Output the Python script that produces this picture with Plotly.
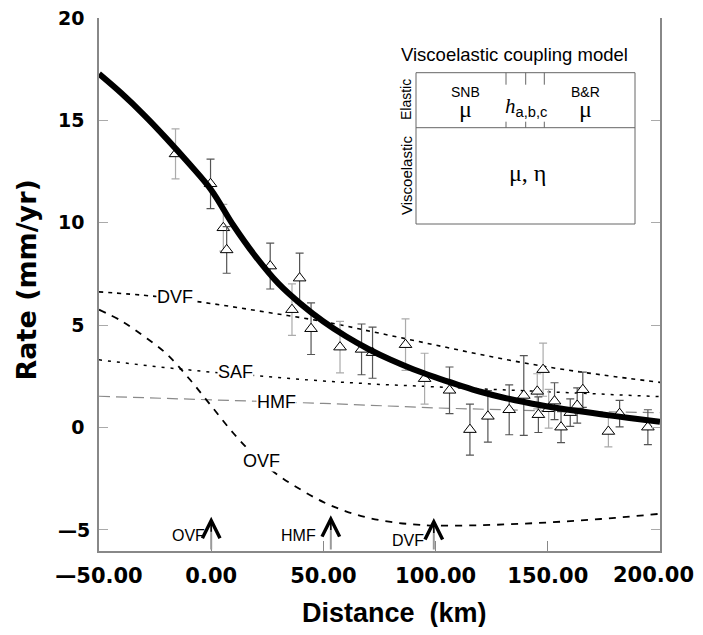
import plotly.graph_objects as go

# ---------------- data ----------------
model_x = [-50, -40, -30, -20, -10, 0, 10, 20, 30, 40, 50, 60, 70, 80, 90, 100,
           110, 120, 130, 140, 150, 160, 170, 180, 190, 200]
model_y = [17.27, 16.32, 15.27, 14.12, 12.9, 11.6, 9.85, 8.32, 7.02, 6.02, 5.17, 4.45,
           3.83, 3.3, 2.84, 2.44, 2.08, 1.74, 1.46, 1.23, 1.02, 0.85, 0.7, 0.55, 0.41, 0.27]

dvf_x = [-50, -25, 0, 25, 50, 75, 100, 125, 150, 175, 200]
dvf_y = [6.62, 6.4, 6.05, 5.62, 5.17, 4.6, 4.02, 3.45, 2.95, 2.55, 2.2]

saf_x = [-50, -25, 0, 25, 50, 75, 100, 125, 150, 175, 200]
saf_y = [3.3, 2.97, 2.7, 2.47, 2.26, 2.1, 1.98, 1.86, 1.74, 1.62, 1.5]

hmf_x = [-50, 0, 50, 100, 150, 200]
hmf_y = [1.52, 1.35, 1.17, 0.95, 0.8, 0.72]

ovf_x = [-50, -40, -30, -20, -10, 0, 10, 20, 30, 40, 50, 60, 70, 80, 90, 100,
         120, 140, 160, 180, 200]
ovf_y = [5.75, 5.2, 4.45, 3.6, 2.4, 1.05, -0.3, -1.45, -2.35, -3.05, -3.65, -4.1,
         -4.42, -4.62, -4.74, -4.8, -4.78, -4.7, -4.58, -4.42, -4.22]

# observations (dark error bars)
obs_dark_x = [-0.3, 6.9, 26.3, 39.4, 44.5, 67.0, 71.9, 106.2, 115.3, 123.3, 132.8,
              139.3, 145.8, 153.0, 155.9, 160.0, 163.1, 165.6, 182.0, 194.6]
obs_dark_y = [11.9, 8.67, 7.88, 7.29, 4.82, 3.81, 3.65, 1.81, -0.11, 0.54, 0.86,
              1.56, 0.62, 1.28, 0.01, 0.72, 1.07, 1.84, 0.67, 0.01]
obs_dark_err = [1.21, 1.14, 1.12, 1.22, 1.26, 1.24, 1.25, 1.14, 1.25, 1.26, 1.22,
                1.95, 0.87, 0.9, 0.76, 0.67, 0.86, 0.86, 0.65, 0.85]

# observations (light error bars)
obs_light_x = [-15.9, 5.4, 36.0, 57.4, 86.6, 95.1, 145.3, 147.9, 150.4, 177.0]
obs_light_y = [13.36, 9.75, 5.75, 3.92, 4.04, 2.38, 1.76, 2.82, 0.91, -0.2]
obs_light_err = [1.22, 1.14, 1.26, 1.26, 1.26, 1.24, 0.86, 1.3, 0.95, 0.75]

curve_labels = ["DVF", "SAF", "HMF", "OVF"]
curve_label_x = [-16, 10.9, 29, 22.3]
curve_label_y = [6.35, 2.72, 1.22, -1.63]

fault_names = ["OVF", "HMF", "DVF"]
fault_pos = [0, 53.3, 99.2]
fault_tip = [-4.37, -4.29, -4.43]

x_ticks = [-50, 0, 50, 100, 150, 200]
x_ticktext = ["\u201450.00", "0.00", "50.00", "100.00", "150.00", ""]
x_last_label = "200.00"
y_ticks = [-5, 0, 5, 10, 15, 20]
y_ticktext = ["", "0", "5", "10", "15", "20"]
y_neg_label = "\u20145"

Y_MIN, Y_MAX = -6.04, 20
X_MIN, X_MAX = -50, 200

# ---------------- layout helpers (page pixel -> paper) ----------------
OFF = 8                      # default body margin of the html page
W, H = 687, 619
ML, MR, MT, MB = 91, 35, 10, 76
PW, PH = W - ML - MR, H - MT - MB


def px(xp):
    return (xp - OFF - ML) / PW


def py(yp):
    return (OFF + H - MB - yp) / PH


LBL = "Liberation Sans, Arial, Helvetica"
SANS = "Liberation Sans, Arial, Helvetica"
SERIF = "Liberation Serif, DejaVu Serif, serif"
XTICK_FONT = dict(family="DejaVu Sans", size=21, color="black", weight="bold")
YTICK_FONT = dict(family="DejaVu Sans", size=19, color="black", weight="bold")


def note(xp, yp, text, font, **kw):
    d = dict(x=px(xp), y=py(yp), xref="paper", yref="paper", text=text, showarrow=False,
             xanchor="center", yanchor="middle", font=font)
    d.update(kw)
    return d


fig = go.Figure()

# fault model curves
fig.add_trace(go.Scatter(x=hmf_x, y=hmf_y, mode="lines",
                         line=dict(color="#8a8a8a", width=1.2, dash="11px,6px")))
fig.add_trace(go.Scatter(x=saf_x, y=saf_y, mode="lines",
                         line=dict(color="black", width=1.5, dash="3px,6px")))
fig.add_trace(go.Scatter(x=dvf_x, y=dvf_y, mode="lines", line_shape="spline",
                         line=dict(color="black", width=1.6, dash="4px,5px")))
fig.add_trace(go.Scatter(x=ovf_x, y=ovf_y, mode="lines", line_shape="spline",
                         line=dict(color="black", width=1.8, dash="7px,7px")))

# observations
fig.add_trace(go.Scatter(
    x=obs_light_x, y=obs_light_y, mode="markers",
    error_y=dict(type="data", array=obs_light_err, color="#ababab", thickness=1.2, width=4),
    marker=dict(symbol="triangle-up", size=11, color="white",
                line=dict(color="black", width=1))))
fig.add_trace(go.Scatter(
    x=obs_dark_x, y=obs_dark_y, mode="markers",
    error_y=dict(type="data", array=obs_dark_err, color="#555555", thickness=1.2, width=4),
    marker=dict(symbol="triangle-up", size=11, color="white",
                line=dict(color="black", width=1))))

# viscoelastic coupling model curve
fig.add_trace(go.Scatter(x=model_x, y=model_y, mode="lines", line_shape="spline",
                         line=dict(color="black", width=6)))

annotations = []
# curve labels
for t, x, y in zip(curve_labels, curve_label_x, curve_label_y):
    annotations.append(dict(x=x, y=y, xref="x", yref="y", text=t, showarrow=False,
                            xanchor="center", yanchor="middle",
                            font=dict(family=LBL, size=18, color="black"),
                            bgcolor="white", borderpad=0))

# fault arrows
label_dx = [-23, -32, -26]
label_dy = [-0.35, -0.45, -0.55]
for name, xp, tip, dx, dy in zip(fault_names, fault_pos, fault_tip, label_dx, label_dy):
    annotations.append(dict(x=xp, y=tip - 0.3, ax=xp, ay=Y_MIN, xref="x", yref="y",
                            axref="x", ayref="y", text="", showarrow=True,
                            arrowhead=0, arrowwidth=2, arrowcolor="#9a9a9a"))
    annotations.append(dict(x=xp, y=tip, ax=xp, ay=tip - 0.8, xref="x", yref="y",
                            axref="x", ayref="y", text="", showarrow=True,
                            arrowhead=5, arrowsize=2.3, arrowwidth=1.5, arrowcolor="black"))
    annotations.append(dict(x=xp, y=tip + dy - 0.55, xref="x", yref="y", text=name,
                            showarrow=False, xshift=dx, xanchor="center", yanchor="middle",
                            font=dict(family=LBL, size=16, color="black")))

# "-5" tick label (sits closer to the axis than the other labels)
annotations.append(dict(x=px(92), y=-5, xref="paper", yref="y", text=y_neg_label,
                        xanchor="right", yanchor="middle", showarrow=False, font=YTICK_FONT))
# last x tick label, kept inside the page
annotations.append(dict(x=px(696), y=py(575), xref="paper", yref="paper", text=x_last_label,
                        xanchor="right", yanchor="middle", showarrow=False, font=XTICK_FONT))

# axis titles
annotations.append(note(25.5, 280, "Rate (mm/yr)",
                        dict(family="DejaVu Sans", size=27, color="black", weight="bold"),
                        textangle=-90))
annotations.append(note(394, 613, "Distance\u00a0\u00a0(km)",
                        dict(family=SANS, size=27, color="black", weight="bold")))

# inset
BX0, BX1, BY0, BYM, BY1 = 416, 635, 72.7, 127.7, 224
annotations += [
    note(514, 55, "Viscoelastic coupling model", dict(family=SANS, size=18.5, color="black")),
    note(465, 91.5, "SNB", dict(family=SANS, size=14, color="black")),
    note(585, 91.5, "B&amp;R", dict(family=SANS, size=14, color="black")),
    note(465, 109, "\u03bc", dict(family=SERIF, size=24, color="black")),
    note(585, 109, "\u03bc", dict(family=SERIF, size=24, color="black")),
    note(526, 107,
         "<i>h</i><span style='font-family:Liberation Sans'><sub>a,b,c</sub></span>",
         dict(family=SERIF, size=21, color="black")),
    note(527, 173, "\u03bc, \u03b7", dict(family=SERIF, size=24, color="black")),
    note(406, 100, "Elastic", dict(family=SANS, size=14, color="black"), textangle=-90),
    note(406, 176, "Viscoelastic", dict(family=SANS, size=15, color="black"), textangle=-90),
]

shapes = [
    dict(type="rect", xref="paper", yref="paper", x0=px(BX0), x1=px(BX1), y0=py(BY1), y1=py(BY0),
         line=dict(color="#666", width=1), fillcolor="rgba(0,0,0,0)"),
    dict(type="line", xref="paper", yref="paper", x0=px(BX0), x1=px(BX1), y0=py(BYM), y1=py(BYM),
         line=dict(color="#666", width=1)),
]
for xd in [506, 525.7, 544.3]:
    shapes.append(dict(type="line", xref="paper", yref="paper", x0=px(xd), x1=px(xd),
                       y0=py(BY0), y1=py(BY0 + 12), line=dict(color="#666", width=1)))
    shapes.append(dict(type="line", xref="paper", yref="paper", x0=px(xd), x1=px(xd),
                       y0=py(BYM - 6), y1=py(BYM), line=dict(color="#666", width=1)))

fig.update_layout(
    width=W, height=H, margin=dict(l=ML, r=MR, t=MT, b=MB, autoexpand=False),
    plot_bgcolor="white", paper_bgcolor="white", showlegend=False,
    annotations=annotations, shapes=shapes,
    xaxis=dict(range=[X_MIN, X_MAX], tickvals=x_ticks, ticktext=x_ticktext,
               ticks="inside", ticklen=10, tickcolor="#888", tickwidth=1,
               showline=True, linecolor="#888", linewidth=1.5,
               showgrid=False, zeroline=False, ticklabelstandoff=5,
               ticklabeloverflow="allow", automargin=False, tickfont=XTICK_FONT),
    yaxis=dict(range=[Y_MIN, Y_MAX], tickvals=y_ticks, ticktext=y_ticktext,
               ticks="inside", ticklen=9, tickcolor="#aaa", tickwidth=1,
               showline=True, linecolor="#888", linewidth=1.5, mirror="ticks",
               showgrid=False, zeroline=False, ticklabelstandoff=9,
               ticklabeloverflow="allow", automargin=False, tickfont=YTICK_FONT),
)

fig.write_html("out.html")
